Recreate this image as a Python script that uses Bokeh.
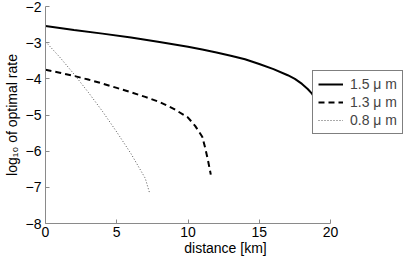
from bokeh.plotting import figure
from bokeh.models import Legend, LegendItem, FixedTicker, Range1d
from bokeh.embed import file_html
from bokeh.resources import INLINE

# data
x_15 = [0, 2, 4, 6, 8, 10, 11, 12, 13, 14, 15, 16, 17, 17.5, 18, 18.4, 18.7, 19.0]
y_15 = [-2.54, -2.65, -2.75, -2.86, -2.98, -3.11, -3.19, -3.27, -3.36, -3.46, -3.59, -3.73, -3.9, -4.0, -4.14, -4.28, -4.41, -4.6]

x_13 = [0, 1, 2, 3, 4, 5, 6, 7, 8, 9, 10, 10.5, 11, 11.2, 11.4, 11.6]
y_13 = [-3.75, -3.83, -3.92, -4.02, -4.13, -4.25, -4.37, -4.5, -4.64, -4.83, -5.07, -5.3, -5.6, -5.9, -6.25, -6.65]

x_08 = [0, 1, 2, 3, 4, 5, 6, 7, 7.3]
y_08 = [-2.97, -3.4, -3.87, -4.37, -4.9, -5.47, -6.07, -6.75, -7.15]

labels = ["1.5 \u03bc m", "1.3 \u03bc m", "0.8 \u03bc m"]
x_ticks = [0, 5, 10, 15, 20]
y_ticks = [-8, -7, -6, -5, -4, -3, -2]

FONT = "Liberation Sans"

BL, BR, BT, BB = 39, 0, 6, 35
FW, FH = 360, 217
# axis spans 0..20 over 285 px; frame extends further right to hold the legend
x_end = 20 * FW / 285.0

p = figure(frame_width=FW, frame_height=FH, output_backend="svg", toolbar_location=None,
           x_range=Range1d(0, x_end), y_range=Range1d(-8, -2),
           min_border_left=BL, min_border_top=BT, min_border_right=BR, min_border_bottom=BB)
p.outline_line_color = None
p.xgrid.visible = False
p.ygrid.visible = False

r1 = p.line(x_15, y_15, line_color="black", line_width=2)
r2 = p.line(x_13, y_13, line_color="black", line_width=2, line_dash="6 4")
r3 = p.line(x_08, y_08, line_color="#555555", line_width=1, line_dash="1 2")

for ax in (p.xaxis[0], p.yaxis[0]):
    ax.axis_line_color = "#8a8a8a"
    ax.major_tick_line_color = "#8a8a8a"
    ax.major_tick_in = 4
    ax.major_tick_out = 0
    ax.minor_tick_line_color = None
    ax.major_label_text_font = FONT
    ax.major_label_text_font_size = "14px"
    ax.major_label_text_color = "black"
    ax.axis_label_text_font = FONT
    ax.axis_label_text_font_size = "14px"
    ax.axis_label_text_font_style = "normal"
    ax.axis_label_text_color = "black"

p.xaxis.bounds = (0, 20)
p.xaxis.ticker = FixedTicker(ticks=x_ticks)
p.yaxis.ticker = FixedTicker(ticks=y_ticks)
p.xaxis.major_label_overrides = {t: str(t) for t in x_ticks}
p.yaxis.major_label_overrides = {t: "\u2212" + str(-t) if t < 0 else str(t) for t in y_ticks}
p.xaxis.axis_label = "distance [km]"
p.yaxis.axis_label = "log\u2081\u2080 of optimal rate"
p.xaxis.major_label_standoff = 3
p.yaxis.major_label_standoff = 4
p.xaxis.axis_label_standoff = 0
p.yaxis.axis_label_standoff = 3

legend = Legend(items=[LegendItem(label=labels[0], renderers=[r1]),
                       LegendItem(label=labels[1], renderers=[r2]),
                       LegendItem(label=labels[2], renderers=[r3])],
                location=(267, FH - 128))
legend.label_text_font = FONT
legend.label_text_font_size = "14px"
legend.border_line_color = "black"
legend.border_line_width = 1
legend.background_fill_alpha = 1
legend.glyph_width = 25
legend.glyph_height = 14
legend.spacing = 2
legend.padding = 5
legend.margin = 0
legend.label_standoff = 7
legend.label_height = 14
p.add_layout(legend)

open("out.html", "w").write(file_html(p, INLINE))
